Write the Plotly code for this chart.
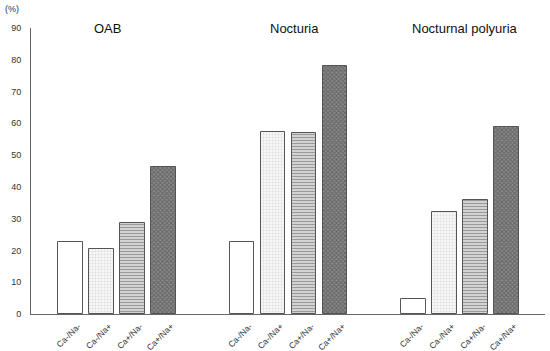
import plotly.graph_objects as go

groups = ["OAB", "Nocturia", "Nocturnal polyuria"]
categories = ["Ca-/Na-", "Ca-/Na+", "Ca+/Na-", "Ca+/Na+"]
values = {
    "Ca-/Na-": [22.7, 22.7, 4.7],
    "Ca-/Na+": [20.3, 57.3, 32.2],
    "Ca+/Na-": [28.5, 57.1, 35.8],
    "Ca+/Na+": [46.3, 78.2, 58.9],
}
y_ticks = [0, 10, 20, 30, 40, 50, 60, 70, 80, 90]

GROUP_STEP = 5.53
TITLE_OFFSETS = [1.2, 1.7, 1.65]
patterns = {
    "Ca-/Na-": dict(shape="", bgcolor="white"),
    "Ca-/Na+": dict(shape=".", bgcolor="#f8f8f8", fgcolor="#c0c0c0", size=3, solidity=0.3),
    "Ca+/Na-": dict(shape="-", bgcolor="#dddddd", fgcolor="#555555", size=3, solidity=0.45),
    "Ca+/Na+": dict(shape="x", bgcolor="#8a8a8a", fgcolor="#3a3a3a", size=3, solidity=0.5),
}

fig = go.Figure()
tickvals, ticktext = [], []
for i, cat in enumerate(categories):
    xs = [g * GROUP_STEP + i for g in range(len(groups))]
    tickvals += [x + 0.25 for x in xs]
    ticktext += [cat] * len(groups)
    fig.add_trace(go.Bar(
        x=xs, y=values[cat], width=0.8, name=cat,
        marker=dict(color="white", pattern=patterns[cat],
                    line=dict(color="#555555", width=1)),
        showlegend=False, hoverinfo="skip",
    ))

for g, name in enumerate(groups):
    fig.add_annotation(x=g * GROUP_STEP + TITLE_OFFSETS[g], y=1.0, xref="x", yref="paper",
                       text=name, showarrow=False, yanchor="middle",
                       font=dict(size=13, color="#111111", family="Liberation Sans, Arial"))

fig.add_annotation(x=-0.055, y=1.065, xref="paper", yref="paper", text="(%)",
                   showarrow=False, xanchor="left", yanchor="middle",
                   font=dict(size=9, color="#333333", family="Liberation Sans, Arial"))

fig.update_layout(
    width=550, height=351,
    margin=dict(l=31, r=5, t=28, b=37),
    plot_bgcolor="white", paper_bgcolor="white",
    font=dict(family="Liberation Sans, Arial", color="#333333"),
    bargap=0,
)
fig.update_xaxes(
    range=[-1.27, 15.3], tickmode="array", tickvals=tickvals, ticktext=ticktext,
    tickangle=-45, tickfont=dict(size=8.5, color="#333333"),
    showline=True, linecolor="#666666", linewidth=1, showgrid=False, zeroline=False,
    ticks="", ticklabelstandoff=3, automargin=False,
)
fig.update_yaxes(
    range=[0, 90], tickvals=y_ticks, tickfont=dict(size=9, color="#333333"),
    showline=True, linecolor="#666666", linewidth=1, showgrid=False, zeroline=False,
    ticks="", ticklabelstandoff=7, automargin=False,
)

fig.write_html("out.html", config={"displayModeBar": False},
               post_script="document.body.style.margin='0';document.body.style.overflow='hidden';")
